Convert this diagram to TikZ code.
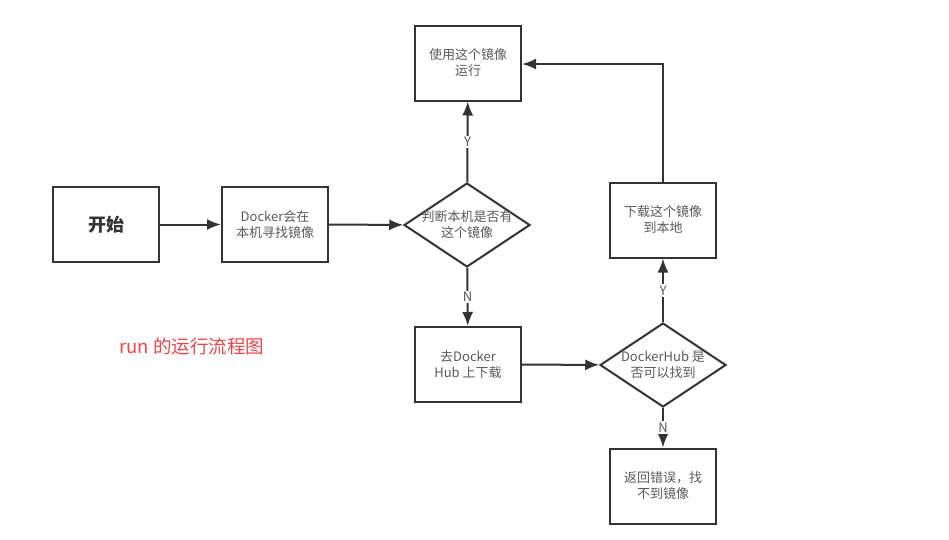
\documentclass[tikz,border=0pt]{standalone}
\usepackage{fontspec}
\setmainfont{Noto Sans CJK SC}
\usetikzlibrary{shapes.geometric,arrows.meta}
\definecolor{ln}{HTML}{333333}
\definecolor{tx}{HTML}{5A5A5A}
\definecolor{rd}{HTML}{E8474A}
\tikzset{
  box/.style={draw=ln,line width=2pt,minimum width=106pt,minimum height=75pt,inner sep=0pt,align=center,font=\fontsize{13}{16}\selectfont,text=tx},
  dia/.style={draw=ln,line width=2pt,diamond,aspect=1.5,minimum width=126pt,minimum height=84pt,inner sep=0pt},
  diatext/.style={align=center,font=\fontsize{13}{16}\selectfont,text=tx,inner sep=0pt},
  conn/.style={draw=ln,line width=2pt,-{Latex[length=14pt,width=11pt]}},
  lab/.style={fill=white,inner sep=1.5pt,font=\fontsize{13}{15}\selectfont,text=tx}
}
\begin{document}
\begin{tikzpicture}[x=1pt,y=-1pt]
\useasboundingbox[fill=white] (0,0) rectangle (949,539);
\node[box,text=ln,font=\fontsize{18}{20}\selectfont\bfseries] (start) at (106,224.5) {开始};
\node[box] (look) at (275,224.5) {Docker会在\\本机寻找镜像};
\node[dia,label={[diatext]center:{判断本机是否有\\这个镜像}}] (d1) at (467,225) {};
\node[box] (run) at (468,63) {使用这个镜像\\运行};
\node[box] (hub) at (468,364.5) {去Docker\\Hub 上下载};
\node[dia,label={[diatext]center:{DockerHub 是\\否可以找到}}] (d2) at (663,365) {};
\node[box] (dl) at (663,220) {下载这个镜像\\到本地};
\node[box] (err) at (663,486) {返回错误，找\\不到镜像};
\node[text=rd,font=\fontsize{18.5}{20}\selectfont] (title) at (192,346) {run 的运行流程图};
\draw[conn] (start) -- (look);
\draw[conn] (look) -- (d1);
\draw[conn] (d1) -- node[lab] (y1) {Y} (run);
\draw[conn] (d1) -- node[lab] (n1) {N} (hub);
\draw[conn] (hub) -- (d2);
\draw[conn] (d2) -- node[lab] (y2) {Y} (dl);
\draw[conn] (d2) -- node[lab] (n2) {N} (err);
\coordinate (corner) at (663,64);
\draw[conn] (dl.north) -- (corner) -- (run.east |- corner);
\end{tikzpicture}
\end{document}
